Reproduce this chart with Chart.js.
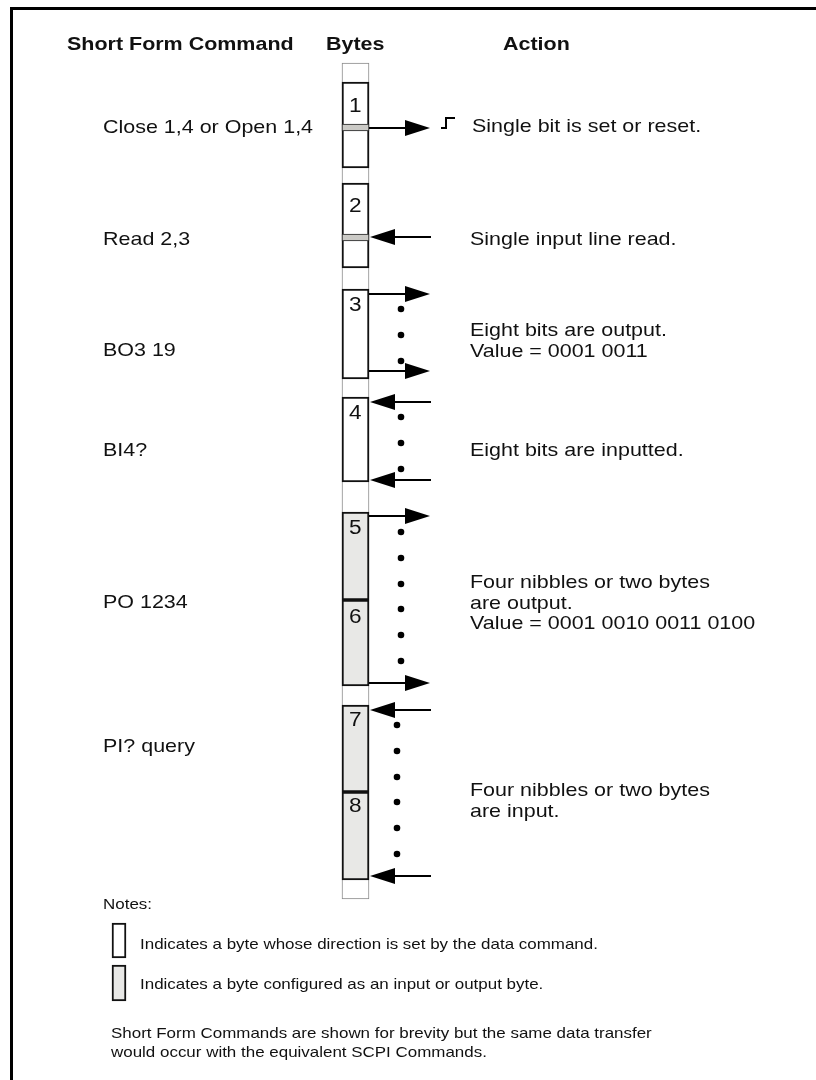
<!DOCTYPE html>
<html><head><meta charset="utf-8">
<script src="https://cdn.jsdelivr.net/npm/chart.js@4.4.0/dist/chart.umd.min.js"></script>
<style>html,body{margin:0;padding:0;background:#fff}#c{display:block}</style>
</head><body>
<canvas id="c" width="816" height="1080"></canvas>
<script>
// ---------- data ----------
const headerText = ['Short Form Command', 'Bytes', 'Action'];
const headerX = [67, 326, 503];
const headerBaseline = 50;

const byteNumbers = ['1','2','3','4','5','6','7','8'];
const byteTop    = [82, 183, 289, 397, 512, 600, 705, 792];
const byteBottom = [168, 268, 379, 482, 600, 686, 792, 880];
const byteKind   = ['data','data','data','data','fixed','fixed','fixed','fixed'];
const byteLabelY = [112, 212, 311, 419, 534, 623, 726, 812];
const columnTop = 63, columnBottom = 899;

const stripeTop = [124, 234];
const stripeBottom = [131, 241];

const outArrowY = [128, 294, 371, 516, 683];
const inArrowY  = [237, 402, 480, 710, 876];

const dotX = [401,401,401,401,401,401, 401,401,401,401,401,401, 397,397,397,397,397,397];
const dotY = [309,335,361,417,443,469, 532,558,584,609,635,661, 725,751,777,802,828,854];

const stepX = [441, 446, 446, 455];
const stepY = [128, 128, 118, 118];

const commandText = ['Close 1,4 or Open 1,4', 'Read 2,3', 'BO3 19', 'BI4?', 'PO 1234', 'PI? query'];
const commandBaseline = [133, 245, 356, 456, 608, 752];

const actionText = ['Single bit is set or reset.', 'Single input line read.', 'Eight bits are output.',
  'Value = 0001 0011', 'Eight bits are inputted.', 'Four nibbles or two bytes', 'are output.',
  'Value = 0001 0010 0011 0100', 'Four nibbles or two bytes', 'are input.'];
const actionX = [472, 470, 470, 470, 470, 470, 470, 470, 470, 470];
const actionBaseline = [132, 245, 336, 357, 456, 588, 609, 629, 796, 817];

const noteText = ['Notes:', 'Indicates a byte whose direction is set by the data command.',
  'Indicates a byte configured as an input or output byte.',
  'Short Form Commands are shown for brevity but the same data transfer',
  'would occur with the equivalent SCPI Commands.'];
const noteX = [103, 140, 140, 111, 111];
const noteBaseline = [909, 949, 989, 1038, 1057];

const legendKind = ['data', 'fixed'];
const legendTop = [923, 965];
const legendBottom = [958, 1001];

// ---------- geometry / style ----------
const colX = 355.5, colW = 27;
const colRight = colX + colW / 2;
const SX = 1.13;
const FONT = '"Liberation Sans", Arial, Helvetica, sans-serif';
const fillFor = k => k === 'fixed' ? '#e8e8e6' : '#ffffff';

function makeHead() {
  const c = document.createElement('canvas');
  c.width = 25; c.height = 16;
  const g = c.getContext('2d');
  g.fillStyle = '#000';
  g.beginPath(); g.moveTo(0, 0); g.lineTo(25, 8); g.lineTo(0, 16); g.closePath(); g.fill();
  return c;
}
const head = makeHead();

const datasets = [];
datasets.push({ type: 'bar', order: 20, grouped: false, barThickness: colW,
  data: [{ x: colX, y: [columnTop, columnBottom] }],
  backgroundColor: '#ffffff', borderColor: '#8a8a8a', borderWidth: 1, borderSkipped: false });
datasets.push({ type: 'bar', order: 19, grouped: false, barThickness: colW,
  data: byteTop.map((t, i) => ({ x: colX, y: [t, byteBottom[i]] })),
  backgroundColor: byteKind.map(fillFor), borderColor: '#111', borderWidth: 2, borderSkipped: false });
datasets.push({ type: 'bar', order: 18, grouped: false, barThickness: colW,
  data: stripeTop.map((t, i) => ({ x: colX, y: [t, stripeBottom[i]] })),
  backgroundColor: '#cbcac6', borderColor: '#222', borderWidth: 1, borderSkipped: false });
datasets.push({ type: 'bar', order: 18, grouped: false, barThickness: 14,
  data: legendTop.map((t, i) => ({ x: 119, y: [t, legendBottom[i]] })),
  backgroundColor: legendKind.map(fillFor), borderColor: '#111', borderWidth: 2, borderSkipped: false });

outArrowY.forEach(v => datasets.push({ type: 'line', order: 10,
  data: [{ x: colRight, y: v }, { x: colRight + 42, y: v }],
  borderColor: '#000', borderWidth: 2, pointRadius: 0, fill: false }));
inArrowY.forEach(v => datasets.push({ type: 'line', order: 10,
  data: [{ x: colRight + 16, y: v }, { x: colRight + 62, y: v }],
  borderColor: '#000', borderWidth: 2, pointRadius: 0, fill: false }));

datasets.push({ type: 'line', order: 9, showLine: false,
  data: outArrowY.map(v => ({ x: colRight + 48.5, y: v })),
  pointStyle: head, pointRotation: 0, pointRadius: 8 });
datasets.push({ type: 'line', order: 9, showLine: false,
  data: inArrowY.map(v => ({ x: colRight + 13.5, y: v })),
  pointStyle: head, pointRotation: 180, pointRadius: 8 });

datasets.push({ type: 'line', order: 8, showLine: false,
  data: dotX.map((v, i) => ({ x: v, y: dotY[i] })),
  pointStyle: 'circle', pointRadius: 3.3, pointBackgroundColor: '#000', pointBorderWidth: 0 });

datasets.push({ type: 'line', order: 8,
  data: stepX.map((v, i) => ({ x: v, y: stepY[i] })),
  borderColor: '#000', borderWidth: 2, pointRadius: 0, borderJoinStyle: 'miter', fill: false });

datasets.push({ type: 'line', order: 8, clip: false,
  data: [{ x: 11.5, y: 1080 }, { x: 11.5, y: 8.5 }, { x: 816, y: 8.5 }],
  borderColor: '#000', borderWidth: 3, pointRadius: 0, borderJoinStyle: 'miter', fill: false });

const textPlugin = {
  id: 'texts',
  afterDatasetsDraw(chart) {
    const { ctx, scales: { x, y } } = chart;
    const put = (t, vx, vy, font) => {
      ctx.save();
      ctx.font = font; ctx.fillStyle = '#111';
      ctx.textBaseline = 'alphabetic'; ctx.textAlign = 'left';
      ctx.translate(x.getPixelForValue(vx), y.getPixelForValue(vy));
      ctx.scale(SX, 1);
      ctx.fillText(t, 0, 0);
      ctx.restore();
    };
    headerText.forEach((t, i) => put(t, headerX[i], headerBaseline, 'bold 19px ' + FONT));
    byteNumbers.forEach((t, i) => put(t, 349, byteLabelY[i], '20px ' + FONT));
    commandText.forEach((t, i) => put(t, 103, commandBaseline[i], '19px ' + FONT));
    actionText.forEach((t, i) => put(t, actionX[i], actionBaseline[i], '19px ' + FONT));
    noteText.forEach((t, i) => put(t, noteX[i], noteBaseline[i], '15px ' + FONT));
  }
};

new Chart(document.getElementById('c'), {
  type: 'bar',
  data: { datasets },
  options: {
    responsive: false, devicePixelRatio: 1, animation: false,
    layout: { padding: 0, autoPadding: false },
    plugins: { legend: { display: false }, tooltip: { enabled: false } },
    scales: {
      x: { type: 'linear', min: 0, max: 816, display: false, offset: false, grid: { offset: false } },
      y: { type: 'linear', min: 0, max: 1080, reverse: true, display: false, stacked: false }
    }
  },
  plugins: [textPlugin]
});
</script>
</body></html>
